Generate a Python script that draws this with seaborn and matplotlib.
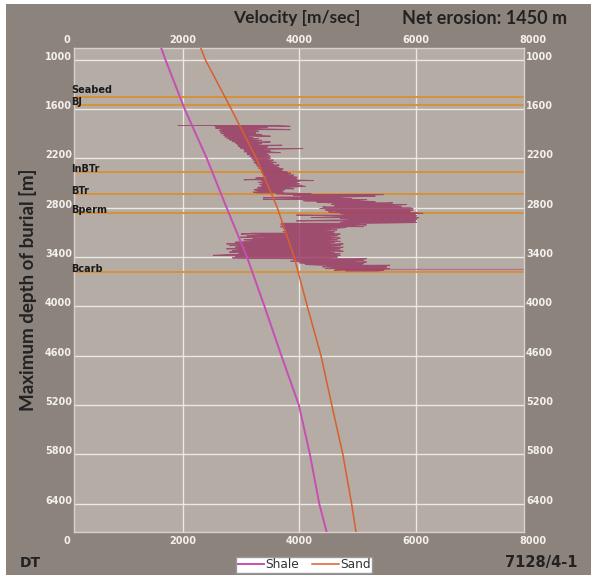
import numpy as np
import pandas as pd
import matplotlib
matplotlib.use("Agg")
import matplotlib.pyplot as plt
import matplotlib.transforms as mtransforms
from matplotlib.patches import Rectangle
import seaborn as sns

# ---------------- data ----------------
x_tick_values = [0, 2000, 4000, 6000, 8000]
y_tick_values = [1000, 1600, 2200, 2800, 3400, 4000, 4600, 5200, 5800, 6400]

curve_depth = [857, 1000, 1600, 2200, 2800, 3400, 4000, 4600, 5200, 5800, 6400, 6740]
shale_velocity = [1628, 1700, 2030, 2410, 2750, 3100, 3400, 3690, 3990, 4180, 4340, 4465]
sand_velocity = [2307, 2385, 2830, 3260, 3620, 3910, 4135, 4370, 4555, 4745, 4895, 4970]

formation_names = ["Seabed", "BJ", "InBTr", "BTr", "Bperm", "Bcarb"]
formation_depths = [1450, 1550, 2370, 2630, 2868, 3582]

extra_pick_depth = [3550]
extra_pick_start = [4640]

# well log (DT -> velocity), sampled every 10 m from 1800 m to 3570 m
trace_depth = np.arange(1800, 3580, 10)
trace_low = [
    1920, 2550, 2600, 2560, 2650, 2700, 2620, 2680, 2640, 2700,
    2660, 2720, 2700, 2750, 2720, 2780, 2760, 2800, 2820, 2850,
    2880, 2900, 2950, 2930, 2980, 2950, 3000, 2980, 3020, 3050,
    3050, 3080, 3050, 3100, 3120, 3100, 3150, 3170, 3150, 3200,
    3180, 3220, 3200, 3230, 3250, 3220, 3250, 3270, 3260, 3300,
    3280, 3320, 3300, 3330, 3350, 3340, 3380, 3350, 3400, 3380,
    3420, 3400, 3450, 3420, 3250, 3400, 3050, 3350, 3400, 3300,
    3350, 3400, 3320, 3380, 3350, 3300, 3280, 3350, 3220, 3250,
    3300, 3210, 3280, 3600, 4070, 3900, 4100, 3700, 3380, 4000,
    3380, 4070, 4100, 4300, 4520, 4600, 4550, 4700, 4600, 4400,
    4500, 4350, 4600, 4450, 4700, 4500, 4600, 4700, 4800, 3950,
    4700, 4800, 4200, 4700, 4900, 4600, 3950, 4800, 4700, 3700,
    3680, 3700, 3750, 3670, 3800, 3720, 3800, 3750, 3850, 3720,
    3800, 3200, 3000, 3400, 3100, 3300, 2980, 3500, 3200, 3050,
    3300, 3400, 2900, 3100, 2750, 3000, 2800, 3100, 2900, 3200,
    2750, 3000, 2850, 3100, 2800, 2950, 3150, 2800, 2520, 2900,
    3100, 2850, 3850, 3900, 4000, 3850, 4100, 4000, 4200, 4100,
    4350, 4500, 4400, 4600, 4450, 4700, 4600, 4800,
]
trace_high = [
    3610, 3840, 3450, 3250, 3350, 3840, 3150, 3300, 3100, 3250,
    3200, 3350, 3150, 3500, 3100, 3200, 3300, 3150, 3350, 3250,
    3500, 3200, 3350, 3250, 3700, 3300, 3450, 3350, 4060, 3400,
    3350, 3500, 3450, 3670, 3400, 3450, 3480, 3400, 3500, 3450,
    3500, 3450, 3550, 3480, 3500, 3600, 3520, 3550, 3650, 3580,
    3600, 3650, 3620, 3720, 3650, 3700, 3750, 3800, 3850, 3780,
    3900, 3880, 3850, 3960, 3900, 3950, 3850, 4240, 4000, 3900,
    3950, 4000, 3900, 4050, 4100, 3850, 3800, 3900, 3750, 3700,
    3650, 3720, 3700, 4200, 5440, 5000, 5300, 4700, 4640, 4900,
    5150, 5000, 5150, 5300, 5600, 5500, 5840, 5700, 5600, 5750,
    5900, 5950, 5800, 5950, 5850, 5900, 6000, 6120, 5950, 6000,
    6010, 5950, 6050, 6000, 6010, 5950, 6000, 5900, 6010, 5200,
    5000, 5150, 4900, 5100, 4800, 4640, 4500, 4640, 4400, 4600,
    4500, 4600, 4700, 4500, 4650, 4400, 4600, 4700, 4500, 4650,
    4400, 4700, 4600, 4500, 4750, 4600, 4700, 4500, 4750, 4600,
    4700, 4400, 4650, 4750, 4500, 4600, 4700, 4550, 4700, 4600,
    4650, 4500, 5150, 5000, 5100, 4900, 5150, 5000, 5100, 5050,
    5550, 5400, 5500, 5300, 5550, 5400, 5450, 5350,
]

# ---------------- styling ----------------
OUTER_BG = "#8b837c"
PLOT_BG = "#b4aca5"
GRID = "#ece8e4"
TICK_TXT = "#f4f0ec"
DARK = "#222222"
SHALE_C = "#c64fb3"
SAND_C = "#d8602e"
TRACE_C = "#9c3c66"
FORM_C = "#d6923a"

fig = plt.figure(figsize=(5.91, 5.78), dpi=100, facecolor="white")
fig.patches.append(Rectangle((6 / 591, 3 / 578), 1 - 6 / 591, 1 - 6.5 / 578,
                             transform=fig.transFigure, facecolor=OUTER_BG,
                             edgecolor="none", zorder=-10))

ax = fig.add_axes([74 / 591, 1 - 532 / 578, 450 / 591, 484 / 578])
ax.set_facecolor(PLOT_BG)

# build zig-zag log trace from the typed low/high readings
tv, td = [], []
for i, d in enumerate(trace_depth):
    if i % 2 == 0:
        tv += [trace_low[i], trace_high[i]]
    else:
        tv += [trace_high[i], trace_low[i]]
    td += [d, d]
trace_df = pd.DataFrame({"velocity": tv, "depth": td})

curves_df = pd.DataFrame({
    "velocity": shale_velocity + sand_velocity,
    "depth": curve_depth + curve_depth,
    "lith": ["Shale"] * len(curve_depth) + ["Sand"] * len(curve_depth),
})

# formation tops
for d in formation_depths:
    ax.axhline(d, color=FORM_C, lw=1.4, zorder=2)
for d, s in zip(extra_pick_depth, extra_pick_start):
    ax.hlines(d, s, 8000, color="#b8728f", lw=1.0, zorder=2)

sns.lineplot(data=trace_df, x="velocity", y="depth", sort=False, estimator=None,
             color=TRACE_C, lw=0.7, alpha=0.85, ax=ax, zorder=3)
sns.lineplot(data=curves_df, x="velocity", y="depth", hue="lith",
             palette={"Shale": SHALE_C, "Sand": SAND_C}, sort=False,
             estimator=None, ax=ax, zorder=4, legend=True)
for ln in ax.get_lines():
    if ln.get_color() == SHALE_C:
        ln.set_linewidth(1.4)
    elif ln.get_color() == SAND_C:
        ln.set_linewidth(1.1)

ax.set_xlim(130, 7855)
ax.set_ylim(6745, 857)

ax.set_xticks([2000, 4000, 6000])
ax.set_yticks(y_tick_values)
ax.set_yticklabels([str(v) for v in y_tick_values])
ax.grid(True, color=GRID, lw=1.0, zorder=1)
ax.set_axisbelow(True)
ax.tick_params(axis="x", length=0, labelbottom=False)
ax.tick_params(axis="y", length=0, labelleft=True, labelright=True, pad=1.5,
               labelcolor=TICK_TXT, labelsize=7)
for tick in ax.yaxis.get_major_ticks():
    for lab in (tick.label1, tick.label2):
        lab.set_fontweight("bold")
        lab.set_va("baseline")
ax.set_xlabel("")
ax.set_ylabel("")
for sp in ax.spines.values():
    sp.set_color("#d9d2cc")
    sp.set_linewidth(1.0)

# x tick labels at top and bottom (0 and 8000 sit just outside the frame)
trans = mtransforms.blended_transform_factory(ax.transData, ax.transAxes)
for v in x_tick_values:
    for yy in (1.0167, -0.0188):
        ax.text(v, yy, str(v), transform=trans, ha="center", va="center",
                fontsize=7, fontweight="bold", color=TICK_TXT, clip_on=False)

# formation labels (the first one is lifted a little so it clears "BJ")
for i, (name, d) in enumerate(zip(formation_names, formation_depths)):
    lift = 3.5 if i == 0 else 0.0
    off = mtransforms.ScaledTranslation(-2 / 72, lift / 100, fig.dpi_scale_trans)
    ax.text(130, d, name, ha="left", va="baseline", fontsize=7.0,
            fontweight="bold", color="#1a1a1a", clip_on=False,
            transform=ax.transData + off, zorder=6)

# legend
handles, labels = ax.get_legend_handles_labels()
ax.get_legend().remove()
leg = fig.legend(handles, labels, loc="center", bbox_to_anchor=(304 / 591, 1 - 565 / 578),
                 ncol=2, frameon=True, fancybox=False, edgecolor="#9a9a9a",
                 facecolor="white", framealpha=1, borderpad=0.15,
                 handlelength=2.2, handletextpad=0.1, columnspacing=1.0,
                 prop={"family": ["Liberation Sans Narrow", "DejaVu Sans"], "size": 8.8})
for t in leg.get_texts():
    t.set_color("#333333")

# titles / labels
fig.text(297 / 591, 1 - 18.4 / 578, "Velocity [m/sec]", ha="center", va="center",
         fontsize=12.5, fontweight="bold", color=DARK, family=["Lato", "DejaVu Sans"])
fig.text(484.5 / 591, 1 - 18.4 / 578, "Net erosion: 1450 m", ha="center", va="center",
         fontsize=13, fontweight="bold", color=DARK, family=["Lato", "DejaVu Sans"])
fig.text(28 / 591, 1 - 290 / 578, "Maximum depth of burial [m]", ha="center", va="center",
         rotation=90, fontsize=13.5, fontweight="bold", color=DARK,
         family=["Lato", "DejaVu Sans"])
fig.text(20 / 591, 1 - 563 / 578, "DT", ha="left", va="center", fontsize=10,
         fontweight="bold", color=DARK, family=["Liberation Sans Narrow", "DejaVu Sans"])
fig.text(577 / 591, 1 - 563 / 578, "7128/4-1", ha="right", va="center", fontsize=10.5,
         fontweight="bold", color=DARK, family=["Liberation Sans Narrow", "DejaVu Sans"])

fig.savefig("out.png", dpi=100, facecolor=fig.get_facecolor())
